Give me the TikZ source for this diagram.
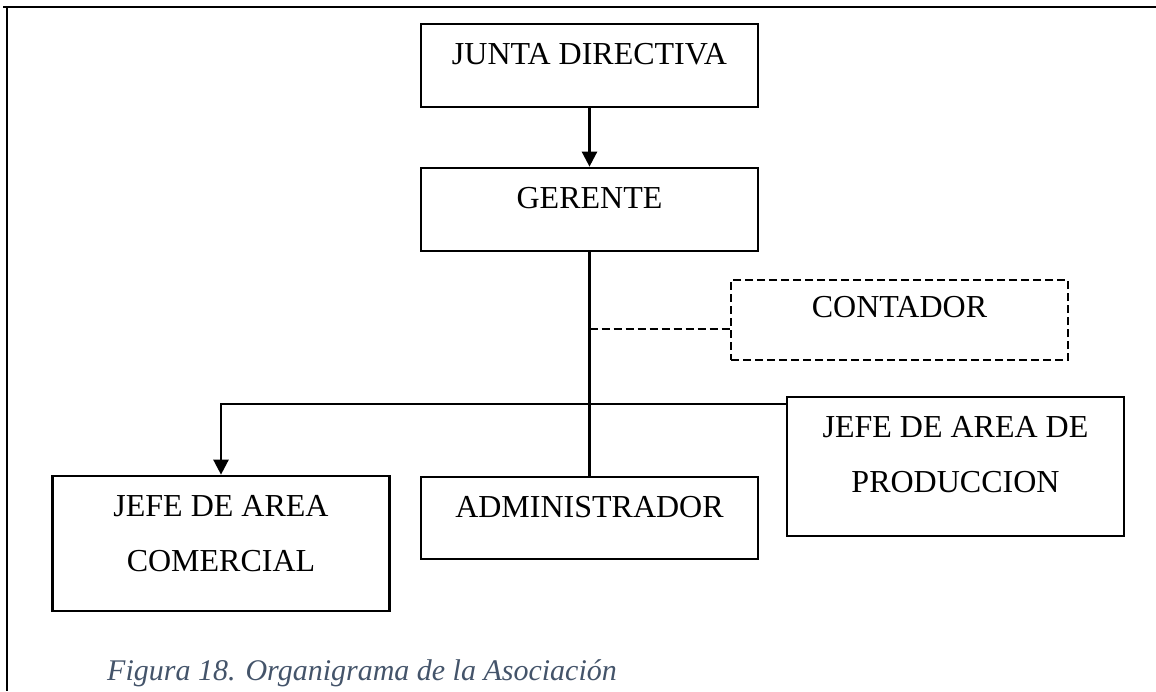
\documentclass[tikz,border=0pt]{standalone}
\usepackage{fontspec}
\setmainfont{Liberation Serif}
\usepackage{tikz}
\usetikzlibrary{positioning,arrows.meta}

\definecolor{captiongray}{HTML}{44546A}

\tikzset{
  orgbox/.style = {draw, line width=2.7pt, minimum width=337pt, inner sep=0pt},
  dashbox/.style = {orgbox, line width=2.2pt, dash pattern=on 8pt off 4pt},
  orgtext/.style = {inner sep=0pt, align=center, font=\fontsize{32}{55}\selectfont},
  link/.style = {line width=2.5pt},
  linkarrow/.style = {link, -{Triangle[length=15pt,width=15pt]}}
}

\begin{document}
\begin{tikzpicture}[x=1pt,y=-1pt]
\useasboundingbox (0,0) rectangle (1156,691);


%frame round the figure
\draw [line width=2.8pt] (3,7)--(1156,7); % top side
\draw [line width=2.8pt] (7,7)--(7,691); % left side


%boxes of the chart
\node [orgbox, minimum height=83pt] (junta) at (589.5,65.5) {};
\node [orgbox, minimum height=83pt] (gerente) at (589.5,209.5) {};
\node [dashbox, minimum height=80pt] (contador) at (899.5,320) {};
\node [orgbox, minimum height=135pt] (comercial) at (221,543.5) {};
\node [orgbox, minimum height=82pt] (admin) at (589.5,518) {};
\node [orgbox, minimum height=139pt] (produccion) at (955.5,466.5) {};


%texts near the top of each box
\node [orgtext, below=20pt of junta.north] (juntatext) {JUNTA DIRECTIVA};
\node [orgtext, below=20pt of gerente.north] (gerentetext) {GERENTE};
\node [orgtext, below=17pt of contador.north] (contadortext) {CONTADOR};
\node [orgtext, below=21pt of comercial.north] (comercialtext) {JEFE DE AREA\\COMERCIAL};
\node [orgtext, below=20pt of admin.north] (admintext) {ADMINISTRADOR};
\node [orgtext, below=21pt of produccion.north] (produccitext) {JEFE DE AREA DE\\PRODUCCION};


%connectors
\draw [linkarrow] (junta.south)--(gerente.north); % junta to gerente
\draw [link] (gerente.south)--(admin.north); % main vertical line

\coordinate (tap) at (589.5,329); % where the dashed line leaves
\draw [link, line width=2pt, dash pattern=on 8pt off 4pt] (tap)--(tap -| contador.west); % to contador

\coordinate (bus) at (589.5,404); % horizontal line to the two jefes
\draw [linkarrow] (bus -| produccion.west)--(bus -| comercial.north)--(comercial.north);


%caption under the chart
\node [anchor=base west, inner sep=0pt, text=captiongray, font=\fontsize{30}{36}\selectfont\itshape] (caption) at (107,680) {Figura 18. Organigrama de la Asociación};


\end{tikzpicture}
\end{document}
